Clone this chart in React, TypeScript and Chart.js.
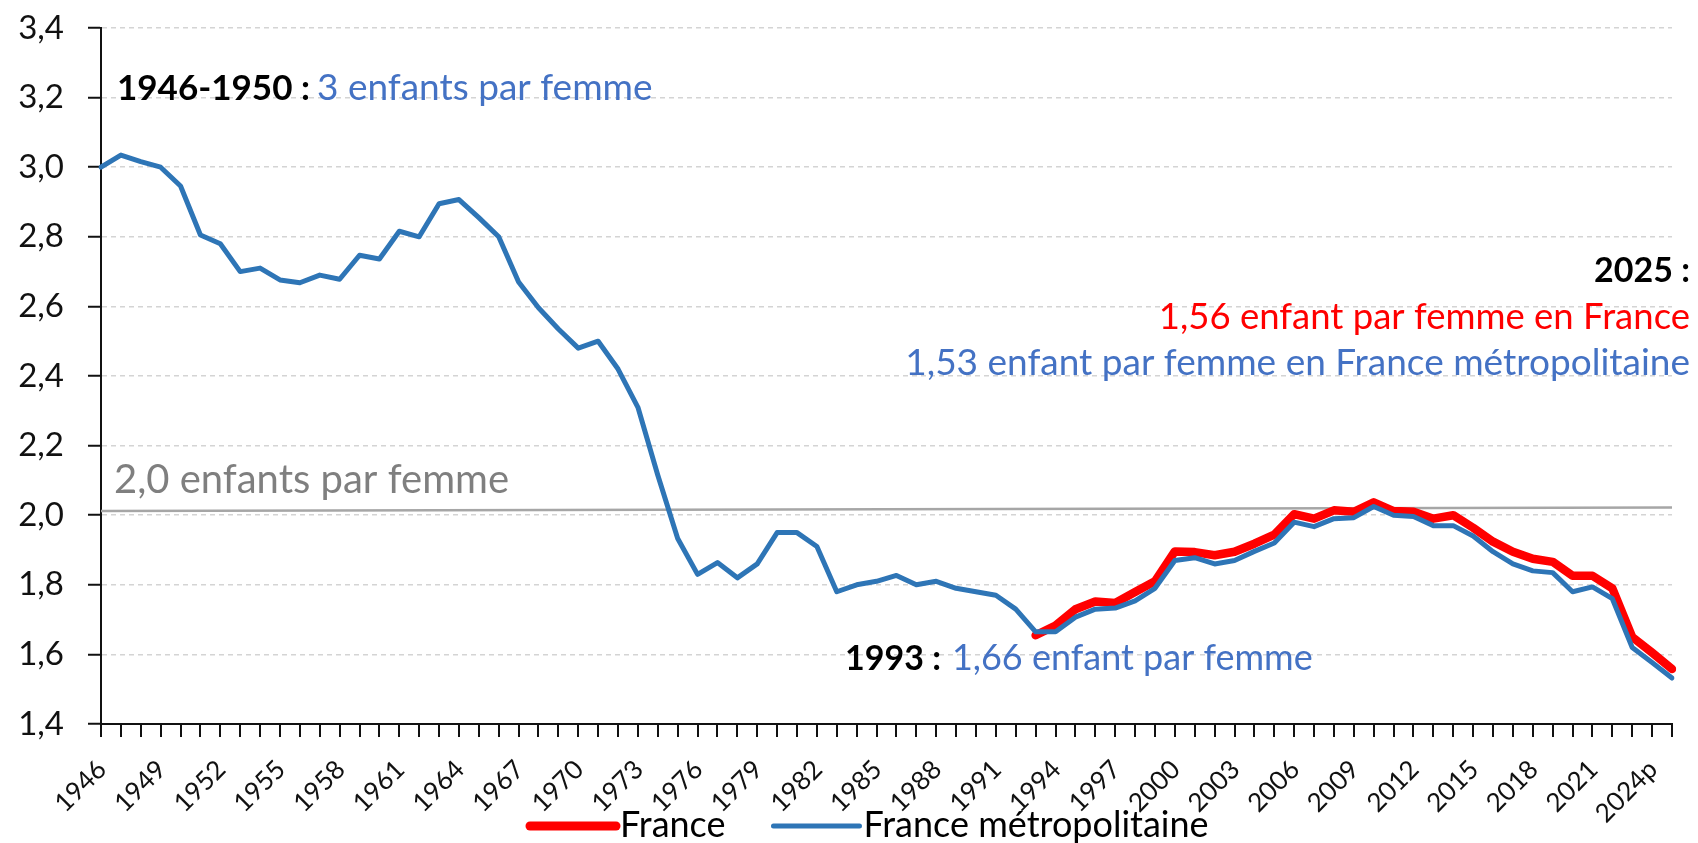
import React, { useEffect, useRef } from 'react';
import { Chart, registerables } from 'chart.js';

Chart.register(...registerables);

// ---------- data ----------
const years = [
  '1946', '1947', '1948', '1949', '1950', '1951', '1952', '1953', '1954', '1955',
  '1956', '1957', '1958', '1959', '1960', '1961', '1962', '1963', '1964', '1965',
  '1966', '1967', '1968', '1969', '1970', '1971', '1972', '1973', '1974', '1975',
  '1976', '1977', '1978', '1979', '1980', '1981', '1982', '1983', '1984', '1985',
  '1986', '1987', '1988', '1989', '1990', '1991', '1992', '1993', '1994', '1995',
  '1996', '1997', '1998', '1999', '2000', '2001', '2002', '2003', '2004', '2005',
  '2006', '2007', '2008', '2009', '2010', '2011', '2012', '2013', '2014', '2015',
  '2016', '2017', '2018', '2019', '2020', '2021', '2022', '2023', '2024p', '2025p',
];

const shownYearLabels = [
  '1946', '1949', '1952', '1955', '1958', '1961', '1964', '1967', '1970', '1973',
  '1976', '1979', '1982', '1985', '1988', '1991', '1994', '1997', '2000', '2003',
  '2006', '2009', '2012', '2015', '2018', '2021', '2024p',
];

// France métropolitaine, 1946 -> 2025
const metroValues = [
  3.0, 3.035, 3.016, 3.0, 2.946, 2.805, 2.78, 2.7, 2.71, 2.676,
  2.668, 2.69, 2.678, 2.747, 2.736, 2.816, 2.8, 2.895, 2.907, 2.855,
  2.8, 2.67, 2.596, 2.535, 2.48, 2.5, 2.42, 2.31, 2.115, 1.933,
  1.83, 1.864, 1.82, 1.86, 1.95, 1.95, 1.91, 1.78, 1.8, 1.81,
  1.827, 1.8, 1.81, 1.79, 1.78, 1.77, 1.73, 1.665, 1.665, 1.707,
  1.73, 1.733, 1.754, 1.79, 1.87, 1.878, 1.86, 1.87, 1.896, 1.92,
  1.98, 1.967, 1.99, 1.993, 2.025, 2.0, 1.996, 1.97, 1.97, 1.94,
  1.895, 1.86, 1.84, 1.835, 1.78, 1.794, 1.76, 1.62, 1.577, 1.532,
];

// France (with overseas departments), 1993 -> 2025
const franceFirstYear = '1993';
const franceValues = [
  1.655, 1.683, 1.73, 1.752, 1.748, 1.779, 1.81, 1.896, 1.894, 1.885,
  1.895, 1.918, 1.944, 2.003, 1.99, 2.014, 2.01, 2.037, 2.012, 2.01,
  1.99, 2.0, 1.964, 1.924, 1.895, 1.875, 1.866, 1.826, 1.826, 1.79,
  1.65, 1.605, 1.558,
];

// 2,0 children per woman reference line (value at first and last year)
const referenceLineEnds = [2.012, 2.022];

// ---------- styles ----------
const FONT = 'Lato, "Noto Sans", sans-serif';
const RED = '#FF0000';
const BLUE_LINE = '#2E75B6';
const BLUE_TEXT = '#4472C4';
const GREY_TEXT = '#7F7F7F';
const AXIS = '#111111';

type Run = { text: string; font: string; color: string };

function drawRuns(ctx: CanvasRenderingContext2D, runs: Run[], x: number, baseline: number, gap: number, align: 'left' | 'right') {
  const widths = runs.map((r) => {
    ctx.font = r.font;
    return ctx.measureText(r.text).width;
  });
  const total = widths.reduce((a, b) => a + b, 0) + gap * (runs.length - 1);
  let cx = align === 'left' ? x : x - total;
  ctx.textAlign = 'left';
  ctx.textBaseline = 'alphabetic';
  runs.forEach((r, i) => {
    ctx.font = r.font;
    ctx.fillStyle = r.color;
    ctx.fillText(r.text, cx, baseline);
    cx += widths[i] + gap;
  });
}

const annotationPlugin = {
  id: 'textAnnotations',
  afterDraw(chart: any) {
    const ctx: CanvasRenderingContext2D = chart.ctx;
    ctx.save();
    const bold = (s: number) => `bold ${s}px ${FONT}`;
    const norm = (s: number) => `${s}px ${FONT}`;

    drawRuns(ctx, [
      { text: '1946-1950 :', font: bold(35), color: '#000' },
      { text: '3 enfants par femme', font: norm(37), color: BLUE_TEXT },
    ], 117, 100, 7, 'left');

    drawRuns(ctx, [{ text: '2,0 enfants par femme', font: norm(40), color: GREY_TEXT }], 114, 493, 0, 'left');

    drawRuns(ctx, [
      { text: '1993 :', font: bold(34), color: '#000' },
      { text: '1,66 enfant par femme', font: norm(36), color: BLUE_TEXT },
    ], 845, 670, 11, 'left');

    drawRuns(ctx, [{ text: '2025 :', font: bold(34), color: '#000' }], 1690, 282, 0, 'right');
    drawRuns(ctx, [{ text: '1,56 enfant par femme en France', font: norm(36.5), color: RED }], 1690, 329, 0, 'right');
    drawRuns(ctx, [{ text: '1,53 enfant par femme en France métropolitaine', font: norm(37), color: BLUE_TEXT }], 1690, 375, 0, 'right');

    // legend (built from the datasets)
    const items = chart.data.datasets.filter((d: any) => d.inLegend);
    let lx = 530;
    const ly = 826;
    const sampleLen = 86;
    items.forEach((d: any) => {
      ctx.beginPath();
      ctx.lineCap = 'round';
      ctx.strokeStyle = d.borderColor;
      ctx.lineWidth = d.legendLineWidth;
      ctx.moveTo(lx, ly);
      ctx.lineTo(lx + sampleLen, ly);
      ctx.stroke();
      lx += sampleLen + 4;
      ctx.font = norm(36);
      ctx.fillStyle = '#000';
      ctx.textAlign = 'left';
      ctx.textBaseline = 'alphabetic';
      ctx.fillText(d.label, lx, 837);
      lx += ctx.measureText(d.label).width + 48;
    });
    ctx.restore();
  },
};

export default function App() {
  const canvasRef = useRef<HTMLCanvasElement | null>(null);

  useEffect(() => {
    if (!canvasRef.current) return;
    const franceOffset = years.indexOf(franceFirstYear);
    const franceData = years.map((_, i) => (i < franceOffset ? null : franceValues[i - franceOffset]));
    const refData = years.map((_, i) =>
      i === 0 ? referenceLineEnds[0] : i === years.length - 1 ? referenceLineEnds[1] : null,
    );

    const chart = new Chart(canvasRef.current, {
      type: 'line',
      data: {
        labels: years,
        datasets: [
          {
            label: 'France',
            data: franceData,
            borderColor: RED,
            backgroundColor: RED,
            borderWidth: 8.5,
            pointRadius: 0,
            tension: 0,
            borderJoinStyle: 'round',
            borderCapStyle: 'round',
            order: 2,
            inLegend: true,
            legendLineWidth: 9,
          } as any,
          {
            label: 'France métropolitaine',
            data: metroValues,
            borderColor: BLUE_LINE,
            backgroundColor: BLUE_LINE,
            borderWidth: 5,
            pointRadius: 0,
            tension: 0,
            borderJoinStyle: 'round',
            borderCapStyle: 'round',
            order: 1,
            inLegend: true,
            legendLineWidth: 5,
          } as any,
          {
            label: 'Seuil 2,0',
            data: refData,
            borderColor: '#A6A6A6',
            borderWidth: 2.5,
            pointRadius: 0,
            spanGaps: true,
            order: 3,
          } as any,
        ],
      },
      options: {
        responsive: false,
        animation: false,
        events: [],
        layout: { padding: { left: 0, top: 28, right: 26, bottom: 0 } },
        plugins: {
          legend: { display: false },
          tooltip: { enabled: false },
        },
        scales: {
          x: {
            type: 'category',
            offset: false,
            grid: {
              display: true,
              drawOnChartArea: false,
              drawTicks: true,
              tickLength: 13,
              tickColor: AXIS,
              tickWidth: 2,
              lineWidth: 2,
              color: AXIS,
            },
            border: { display: true, color: AXIS, width: 2 },
            ticks: {
              autoSkip: false,
              maxRotation: 45,
              minRotation: 45,
              padding: 17,
              labelOffset: 1,
              color: '#111',
              font: { family: FONT, size: 26 },
              callback: (_v: any, i: number) => (shownYearLabels.includes(years[i]) ? years[i] : ''),
            },
            afterFit: (scale: any) => {
              scale.height = 119;
              scale.paddingLeft = 0;
              scale.paddingRight = 0;
            },
          },
          y: {
            min: 1.4,
            max: 3.4,
            grid: {
              color: '#D4D4D4',
              lineWidth: 1.5,
              drawTicks: true,
              tickLength: 13,
              tickColor: AXIS,
              tickWidth: 2,
            },
            border: { display: true, color: AXIS, width: 2, dash: [5, 4] },
            ticks: {
              stepSize: 0.2,
              padding: 24,
              color: '#111',
              font: { family: FONT, size: 33 },
              callback: (v: any) => Number(v).toFixed(1).replace('.', ','),
            },
            afterFit: (scale: any) => {
              scale.width = 101;
              scale.paddingTop = 0;
              scale.paddingBottom = 0;
            },
          },
        },
      },
      plugins: [annotationPlugin],
    } as any);

    return () => chart.destroy();
  }, []);

  return (
    <div style={{ position: 'absolute', left: 0, top: 0, width: 1698, height: 843, background: '#fff' }}>
      <canvas ref={canvasRef} width={1698} height={843} style={{ display: 'block' }} />
    </div>
  );
}
